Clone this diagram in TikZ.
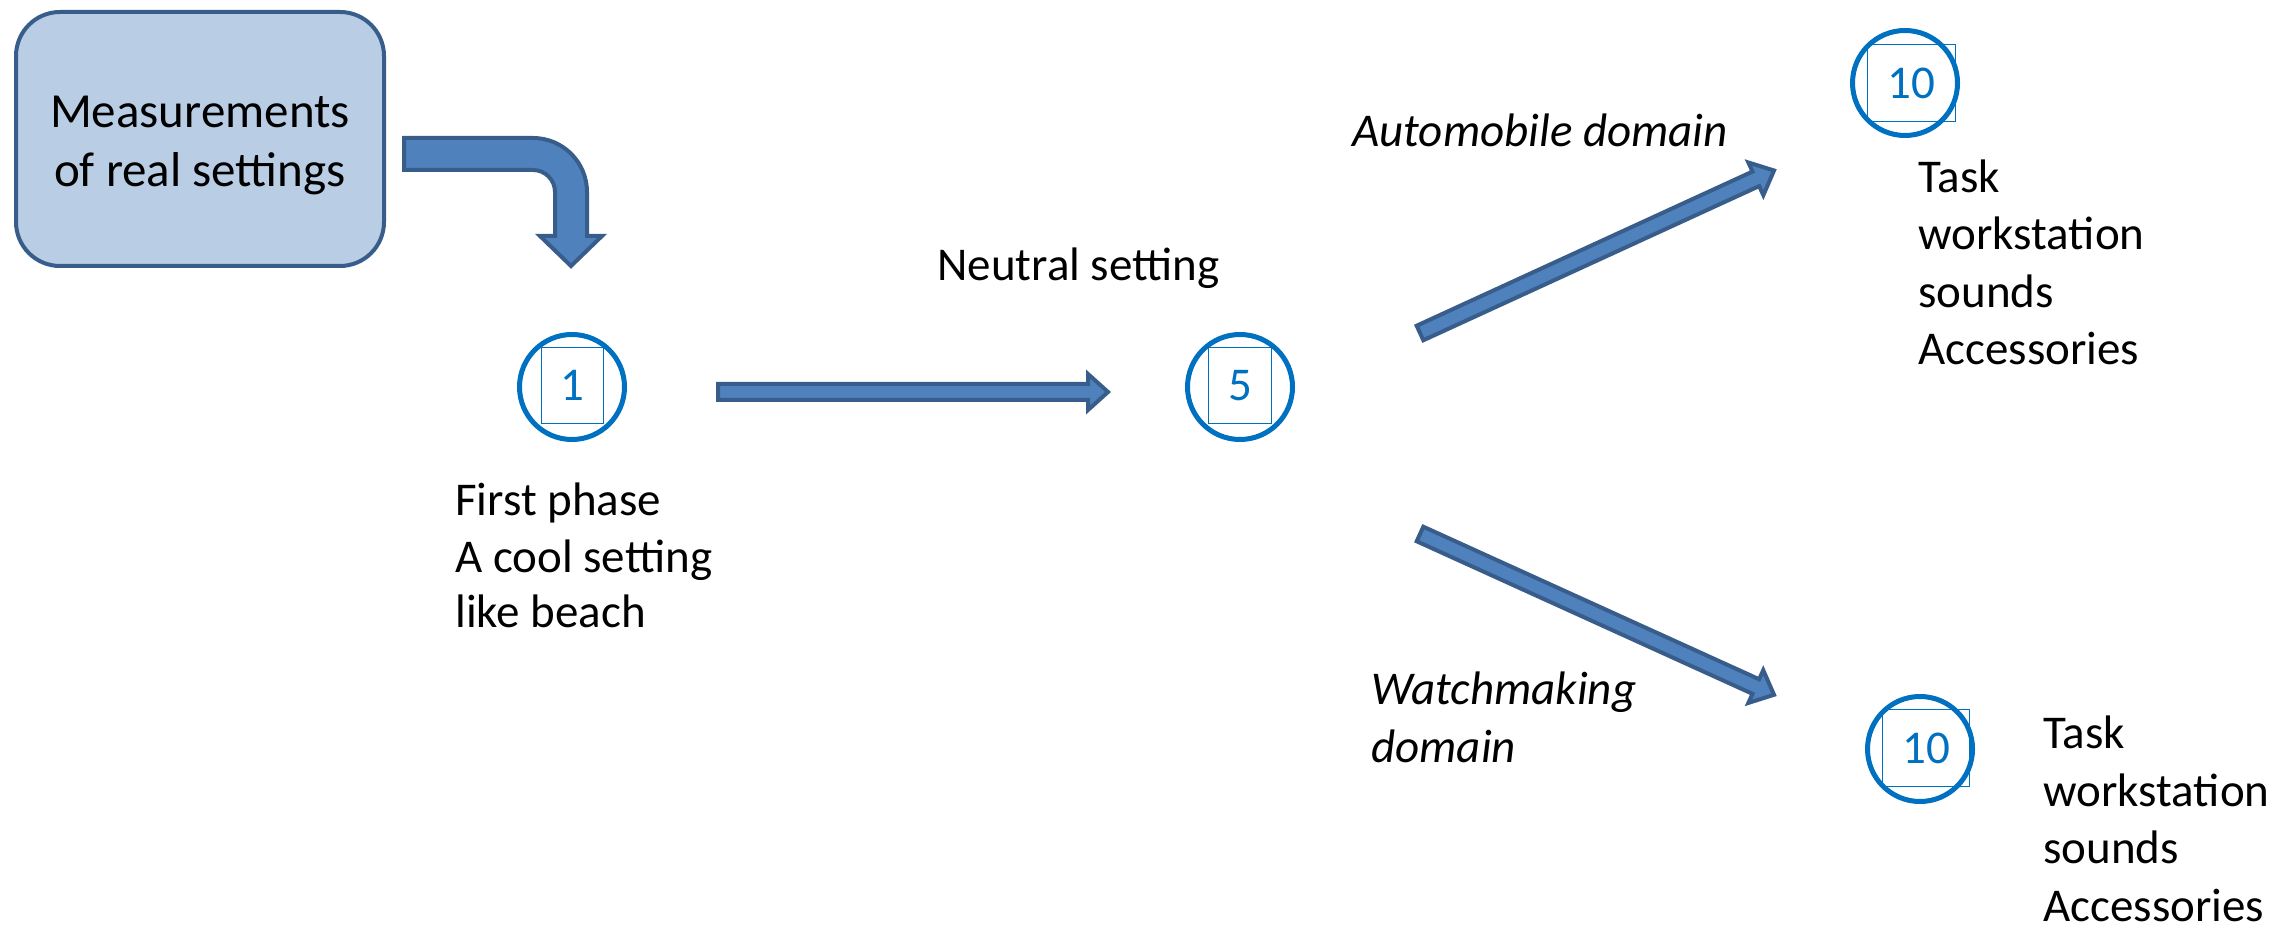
\documentclass[tikz,border=0pt]{standalone}
\usepackage{fontspec}
\setmainfont{Carlito}
\usetikzlibrary{calc}

\definecolor{boxfill}{HTML}{B9CDE5}
\definecolor{boxline}{HTML}{385D8A}
\definecolor{arrowfill}{HTML}{4F81BD}
\definecolor{markblue}{HTML}{0070C0}

\tikzset{
  x=0.5pt, y=-0.5pt,
  txt/.style={font=\fontsize{23.5}{28.75}\selectfont, inner sep=0pt, align=left},
  itxt/.style={txt, font=\fontsize{23.5}{28.75}\selectfont\itshape},
  measbox/.style={draw=boxline, fill=boxfill, line width=2pt, rounded corners=22pt,
    minimum width=184pt, minimum height=127pt},
  boxtext/.style={inner sep=0pt, align=center, font=\fontsize{24.5}{29.5}\selectfont},
  ring/.style={circle, draw=markblue, line width=2.5pt, minimum size=52.5pt, inner sep=0pt},
  tag/.style={draw=markblue, line width=0.75pt, text=markblue, inner sep=0pt,
    font=\fontsize{23.5}{28}\selectfont},
  blockarrow/.style={draw=boxline, fill=arrowfill, line width=2pt, line join=miter},
}

% straight block arrow from #1 (tail) to #2 (tip)
\newcommand\blockarrow[2]{%
  \coordinate (hb) at ($(#2)!10pt!(#1)$);
  \draw[blockarrow] ($(#1)!4pt!90:(#2)$) -- ($(hb)!4pt!90:(#2)$) -- ($(hb)!9pt!90:(#2)$)
    -- (#2) -- ($(hb)!9pt!-90:(#2)$) -- ($(hb)!4pt!-90:(#2)$) -- ($(#1)!4pt!-90:(#2)$) -- cycle;
}

\begin{document}
\begin{tikzpicture}
\useasboundingbox (0,0) rectangle (2295,929);

% source box
\node[measbox] (meas) at (200,139) {};
\node[boxtext] (measText) at (200,145) {Measurements\\of real settings};

% bent arrow from the box down to the first marker
\draw[blockarrow] (404,138) -- (533,138) .. controls (562.8,138) and (587,162.2) .. (587,192)
  -- (587,236) -- (602,236) -- (571,266) -- (540,236) -- (555,236) -- (555,192)
  .. controls (555,179.85) and (545.15,170) .. (533,170) -- (404,170) -- cycle;

% level markers
\node[ring] (r1) at (572,387) {};
\node[tag, minimum width=31pt, minimum height=38pt] (t1) at (572.5,385.5) {1};
\node[ring] (r5) at (1240,387) {};
\node[tag, minimum width=31.5pt, minimum height=38pt] (t5) at (1240,385.5) {5};
\node[ring] (r10a) at (1905,83) {};
\node[tag, minimum width=44pt, minimum height=38.5pt] (t10a) at (1911.5,83) {10};
\node[ring] (r10b) at (1920,749) {};
\node[tag, minimum width=43.5pt, minimum height=38.5pt] (t10b) at (1926,748) {10};

% arrows between the stages
\coordinate (hTail) at (718,392);
\coordinate (hTip) at (1108,392);
\coordinate (uTail) at (1420,333);
\coordinate (uTip) at (1774,170.5);
\coordinate (dTail) at (1420,534);
\coordinate (dTip) at (1774,694.8);
\blockarrow{hTail}{hTip}
\blockarrow{uTail}{uTip}
\blockarrow{dTail}{dTip}

% labels (multi-line blocks are anchored on their last baseline)
\node[txt, anchor=base west, font=\fontsize{23.5}{28}\selectfont] (phase) at (455,628) {First phase\\A cool setting\\like beach};
\node[txt, anchor=base west] (neutral) at (937,281) {Neutral setting};
\node[itxt, anchor=base west] (auto) at (1352,147) {Automobile domain};
\node[itxt, anchor=base west] (watch) at (1371,762) {Watchmaking\\domain};
\node[txt, anchor=base west] (taskA) at (1918,365) {Task\\workstation\\sounds\\Accessories};
\node[txt, anchor=base west] (taskB) at (2043,921) {Task\\workstation\\sounds\\Accessories};
\end{tikzpicture}
\end{document}
